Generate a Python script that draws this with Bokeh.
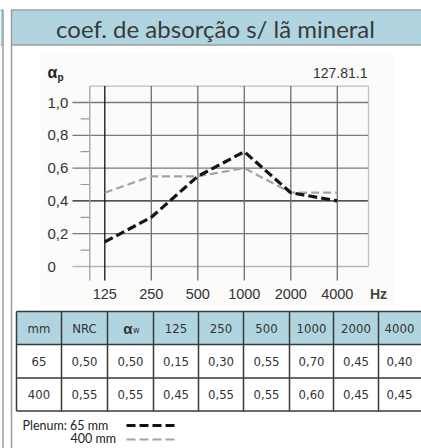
from bokeh.plotting import figure
from bokeh.models import Range1d
from bokeh.core.properties import value
from bokeh.embed import file_html
from bokeh.resources import INLINE

# ---------------- data ----------------
title_text = "coef. de absorção s/ lã mineral"
code_text = "127.81.1"
freq_labels = ["125", "250", "500", "1000", "2000", "4000"]
unit_label = "Hz"
octave_idx = [0, 1, 2, 3, 4, 5]
plenum_mm = ["65", "400"]
nrc = [0.50, 0.55]
alpha_w = [0.50, 0.55]
abs_65 = [0.15, 0.30, 0.55, 0.70, 0.45, 0.40]
abs_400 = [0.45, 0.55, 0.55, 0.60, 0.45, 0.45]
y_ticks = [0.0, 0.2, 0.4, 0.6, 0.8, 1.0]
y_tick_labels = ["0", "0,2", "0,4", "0,6", "0,8", "1,0"]
y_minor = [0.1, 0.3, 0.5, 0.7, 0.9]
y_box_top = 1.1
legend_prefix = "Plenum:"

# ---------------- layout (screen pixels) ----------------
W, H = 421, 448
OFF = 0
X0, DX = 104.3, 46.5    # screen x of 125 Hz, pixels per octave
Y0, DY = 266.0, 164.0   # screen y of 0, pixels per unit


def px(sx):
    return (sx - X0) / DX


def py(sy):
    return (Y0 - sy) / DY


p = figure(width=W, height=H, output_backend="svg", toolbar_location=None,
           x_range=Range1d(px(OFF), px(OFF + W)), y_range=Range1d(py(OFF + H), py(OFF)),
           min_border=0, outline_line_color=None)
p.axis.visible = False
p.grid.visible = False
p.background_fill_color = "white"
p.border_fill_color = "white"

BLUE = "#b0d5e1"
BORDER = "#9c9c9c"
TXT = "#333333"
CHART_FONT = value("Liberation Sans")
TABLE_FONT = value("DejaVu Sans Condensed")
TITLE_FONT = value("Lato")

# left neighbour strip (edge of previous panel)
p.quad(left=[px(0)], right=[px(2.5)], top=[py(10)], bottom=[py(44.5)],
       fill_color=BLUE, line_color=None)
p.line([px(0), px(2.5)], [py(9.5), py(9.5)], line_color=BORDER, line_width=1.5)
p.line([px(0), px(2.5)], [py(44.5), py(44.5)], line_color=BORDER, line_width=1.5)
p.line([px(2.5), px(2.5)], [py(9.5), py(448)], line_color=BORDER, line_width=1.5)

# panel frame + header band
p.quad(left=[px(11)], right=[px(421)], top=[py(10)], bottom=[py(44.5)],
       fill_color=BLUE, line_color=None)
p.line([px(11), px(11), px(421)], [py(448), py(9.5), py(9.5)], line_color=BORDER, line_width=1.5)
p.line([px(11), px(421)], [py(44.5), py(44.5)], line_color=BORDER, line_width=1.5)
p.text(x=[px(215)], y=[py(27.5)], text=[title_text], text_font=TITLE_FONT,
       text_font_size="24px", text_color="#3a3a3a", text_align="center", text_baseline="middle")

# chart image background
p.quad(left=[px(40)], right=[px(393)], top=[py(53)], bottom=[py(305)],
       fill_color="#fbfbf9", line_color=None)

# chart grid
box_l, box_r = px(89.3), px(368)
grid_l = px(72)
x_bot = py(280)
for v in y_ticks[1:]:
    col = "#1a1a1a" if abs(v - 0.4) < 1e-9 else "#7a7a7a"
    p.segment(x0=[grid_l], y0=[v], x1=[box_r], y1=[v], line_color=col, line_width=1.3)
p.segment(x0=[grid_l], y0=[y_ticks[0]], x1=[box_r], y1=[y_ticks[0]], line_color="#b5b5b5", line_width=1.5)
p.segment(x0=[box_l], y0=[y_box_top], x1=[box_r], y1=[y_box_top], line_color="#bdbdbd", line_width=1.3)
p.segment(x0=[px(80)] * len(y_minor), y0=y_minor, x1=[box_l] * len(y_minor), y1=y_minor,
          line_color="#9a9a9a", line_width=1.2)
p.segment(x0=[box_l], y0=[y_box_top], x1=[box_l], y1=[x_bot], line_color="#a0a0a0", line_width=1.3)
p.segment(x0=[box_r], y0=[y_box_top], x1=[box_r], y1=[y_ticks[0]], line_color="#c0c0c0", line_width=1.3)
for i in octave_idx:
    col = "#111111" if i == 0 else "#6e6e6e"
    p.segment(x0=[i], y0=[y_box_top], x1=[i], y1=[x_bot], line_color=col, line_width=1.3)

# series
p.line(octave_idx, abs_400, line_color="#a3a3a3", line_width=2.2, line_dash="8 4")
p.line(octave_idx, abs_65, line_color="#151515", line_width=3.2, line_dash="9 4")

# y tick labels
p.text(x=[px(47)] * len(y_ticks), y=y_ticks, text=y_tick_labels, text_font=CHART_FONT,
       text_font_size="15px", text_color=TXT, text_align="left", text_baseline="middle")
p.text(x=[px(47)], y=[py(72)], text=["α"], text_font=CHART_FONT, text_font_size="16px",
       text_font_style="bold", text_color="#222222", text_align="left", text_baseline="middle")
p.text(x=[px(57)], y=[py(77)], text=["p"], text_font=CHART_FONT, text_font_size="10px",
       text_font_style="bold", text_color="#222222", text_align="left", text_baseline="middle")
p.text(x=[px(367)], y=[py(72)], text=[code_text], text_font=CHART_FONT, text_font_size="14px",
       text_color=TXT, text_align="right", text_baseline="middle")
p.text(x=octave_idx, y=[py(293)] * len(octave_idx), text=freq_labels, text_font=CHART_FONT,
       text_font_size="14.5px", text_color=TXT, text_align="center", text_baseline="middle")
p.text(x=[px(378)], y=[py(293)], text=[unit_label], text_font=CHART_FONT, text_font_size="14px",
       text_font_style="bold", text_color="#444444", text_align="center", text_baseline="middle")

# ---------------- table ----------------
col_edges = [16, 61, 107, 153, 198, 243, 289, 333, 378, 423]
row_edges = [311, 344, 377.5, 410.5]


def fmt(v):
    return f"{v:.2f}".replace(".", ",")


header = ["mm", "NRC", ""] + freq_labels
rows = [[plenum_mm[k], fmt(nrc[k]), fmt(alpha_w[k])] + [fmt(v) for v in (abs_65, abs_400)[k]]
        for k in range(len(plenum_mm))]

p.quad(left=[px(col_edges[0])], right=[px(col_edges[-1])], top=[py(row_edges[0])],
       bottom=[py(row_edges[1])], fill_color=BLUE, line_color=None)
for yy in row_edges:
    p.segment(x0=[px(col_edges[0])], y0=[py(yy)], x1=[px(col_edges[-1])], y1=[py(yy)],
              line_color="#3a3a3a", line_width=1.5)
for xx in col_edges[:-1]:
    p.segment(x0=[px(xx)], y0=[py(row_edges[0])], x1=[px(xx)], y1=[py(row_edges[-1])],
              line_color="#3a3a3a", line_width=1.5)

centers = [(col_edges[i] + col_edges[i + 1]) / 2 for i in range(len(col_edges) - 1)]
centers[-1] = 399
row_c = [(row_edges[i] + row_edges[i + 1]) / 2 for i in range(len(row_edges) - 1)]

p.text(x=[px(c) for c in centers], y=[py(row_c[0])] * len(centers), text=header,
       text_font=TABLE_FONT, text_font_size="13px", text_color=TXT,
       text_align="center", text_baseline="middle")
p.text(x=[px(centers[2] + 2)], y=[py(row_c[0])], text=["α"], text_font=CHART_FONT,
       text_font_size="15px", text_font_style="bold", text_color=TXT,
       text_align="right", text_baseline="middle")
p.text(x=[px(centers[2] + 2.5)], y=[py(row_c[0] + 2)], text=["w"], text_font=TABLE_FONT,
       text_font_size="9px", text_color=TXT, text_align="left", text_baseline="middle")
for k, row in enumerate(rows):
    p.text(x=[px(c) for c in centers], y=[py(row_c[k + 1])] * len(centers), text=row,
           text_font=TABLE_FONT, text_font_size="13px", text_color=TXT,
           text_align="center", text_baseline="middle")

# ---------------- legend ----------------
p.text(x=[px(22)], y=[py(425)], text=[f"{legend_prefix} {plenum_mm[0]} mm"], text_font=TITLE_FONT,
       text_font_size="12.5px", text_color="#222222", text_align="left", text_baseline="middle")
p.text(x=[px(70)], y=[py(438)], text=[f"{plenum_mm[1]} mm"], text_font=TITLE_FONT,
       text_font_size="12.5px", text_color="#222222", text_align="left", text_baseline="middle")
p.line([px(126), px(178)], [py(425), py(425)], line_color="#111111", line_width=3, line_dash="9 4")
p.line([px(126), px(178)], [py(439), py(439)], line_color="#a3a3a3", line_width=2.2, line_dash="9 4")

open("out.html", "w").write(file_html(p, INLINE))
